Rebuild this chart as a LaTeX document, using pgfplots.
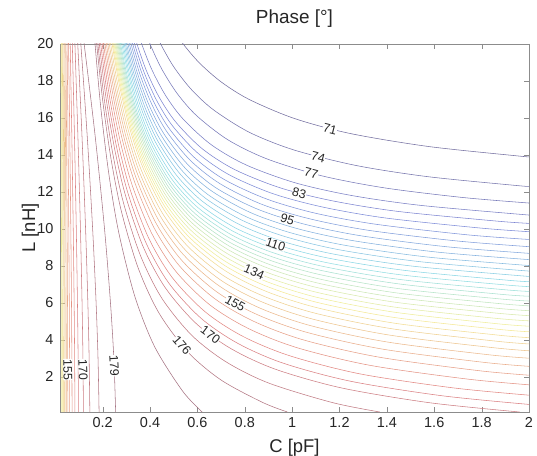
\documentclass[border=0pt]{standalone}
\usepackage{fontspec}
\setmainfont{Liberation Sans}
\usepackage{pgfplots}
\pgfplotsset{compat=1.18}
\pgfplotsset{
  colormap={wjet}{rgb255(0cm)=(115,110,160); rgb255(1cm)=(125,135,215); rgb255(3cm)=(140,220,230); rgb255(5cm)=(245,238,150); rgb255(7cm)=(225,130,130); rgb255(8cm)=(165,115,130)},
  lv/.style={color of colormap={#1 of wjet}, draw=., line width=0.55pt, smooth, no markers},
}
\tikzset{lab/.style={font=\fontsize{12.5}{14}\selectfont, text=black!85, fill=white, inner sep=0.2bp}}
\begin{document}
\begin{tikzpicture}
\useasboundingbox (-60bp,-44bp) rectangle (477bp,412bp);
\begin{axis}[
  scale only axis, width=469bp, height=368bp,
  xmin=0.02, xmax=2, ymin=0.1, ymax=20,
  xtick={0.2,0.4,0.6,0.8,1,1.2,1.4,1.6,1.8,2},
  ytick={2,4,6,8,10,12,14,16,18,20},
  tick align=inside, major tick length=5bp,
  axis line style={draw=black!45}, tick style={draw=black!45},
  /pgf/number format/assume math mode=true,
  tick label style={font=\fontsize{14.5}{16}\selectfont, text=black!85},
  xticklabel style={yshift=-2bp},
  yticklabel style={xshift=-3bp},
  title={Phase [°]},
  title style={font=\fontsize{19}{21}\selectfont, text=black!85, at={(axis description cs:0.5,1.0408)}, anchor=base},
  xlabel={C [pF]},
  xlabel style={font=\fontsize{18.5}{20}\selectfont, text=black!85, at={(axis description cs:0.5,-0.1087)}, anchor=base},
  ylabel={L [nH]},
  ylabel style={font=\fontsize{18.5}{20}\selectfont, text=black!85, at={(axis description cs:-0.0533,0.5)}, anchor=base},
]
% right-hand family of phase contours (71 ... 179 deg, step 3)
\addplot[lv=0] coordinates {(0.493,20.90)(0.54,20)(0.6105,18.95)(0.7045,17.91)(0.822,16.98)(1.01,15.97)(1.245,15.16)(1.574,14.46)(1.95,13.95)(2,13.9)};
\addplot[lv=28] coordinates {(0.4075,21.06)(0.445,20)(0.501,18.75)(0.576,17.52)(0.67,16.42)(0.82,15.22)(1.0075,14.27)(1.27,13.43)(1.57,12.83)(1.945,12.35)(2,12.3)};
\addplot[lv=56] coordinates {(0.367,21.15)(0.40,20)(0.4495,18.65)(0.5155,17.31)(0.598,16.11)(0.73,14.81)(0.895,13.78)(1.126,12.87)(1.39,12.22)(1.72,11.70)(2,11.4)};
\addplot[lv=83] coordinates {(0.3355,21.21)(0.365,20)(0.409,18.58)(0.468,17.17)(0.542,15.91)(0.66,14.54)(0.8075,13.45)(1.014,12.49)(1.25,11.81)(1.545,11.27)(2,10.75)};
\addplot[lv=111] coordinates {(0.3175,21.26)(0.345,20)(0.386,18.52)(0.441,17.07)(0.51,15.76)(0.62,14.34)(0.7575,13.21)(0.95,12.22)(1.17,11.52)(1.445,10.95)(1.8575,10.43)(2,10.3)};
\addplot[lv=139] coordinates {(0.3085,21.31)(0.335,20)(0.375,18.47)(0.428,16.95)(0.494,15.59)(0.60,14.12)(0.7325,12.94)(0.918,11.91)(1.13,11.18)(1.395,10.59)(1.7925,10.05)(2,9.85)};
\addplot[lv=167] coordinates {(0.3013,21.35)(0.327,20)(0.366,18.41)(0.417,16.84)(0.481,15.43)(0.584,13.90)(0.7125,12.68)(0.892,11.62)(1.098,10.85)(1.355,10.25)(1.7405,9.68)(2,9.43)};
\addplot[lv=194] coordinates {(0.295,21.40)(0.32,20)(0.3575,18.36)(0.4075,16.74)(0.47,15.28)(0.57,13.71)(0.695,12.45)(0.87,11.34)(1.07,10.56)(1.32,9.93)(1.695,9.35)(2,9.04)};
\addplot[lv=222] coordinates {(0.2887,21.44)(0.313,20)(0.3495,18.31)(0.398,16.64)(0.459,15.14)(0.556,13.53)(0.6775,12.23)(0.848,11.10)(1.042,10.29)(1.285,9.64)(1.6495,9.04)(2,8.68)};
\addplot[lv=250] coordinates {(0.2833,21.48)(0.307,20)(0.3426,18.27)(0.39,16.55)(0.4492,15.02)(0.544,13.35)(0.6625,12.03)(0.8284,10.86)(1.018,10.03)(1.255,9.37)(1.6105,8.75)(2,8.34)};
\addplot[lv=278] coordinates {(0.2779,21.51)(0.301,20)(0.3357,18.23)(0.3819,16.47)(0.4396,14.90)(0.532,13.20)(0.6475,11.83)(0.8092,10.64)(0.994,9.79)(1.225,9.11)(1.5715,8.48)(2,8.02)};
\addplot[lv=306] coordinates {(0.2734,21.55)(0.296,20)(0.3299,18.19)(0.3751,16.39)(0.4316,14.78)(0.522,13.05)(0.635,11.65)(0.7932,10.44)(0.974,9.57)(1.2,8.87)(1.539,8.23)(2,7.72)};
\addplot[lv=333] coordinates {(0.2689,21.58)(0.291,20)(0.3242,18.15)(0.3684,16.32)(0.4236,14.68)(0.512,12.90)(0.6225,11.48)(0.7772,10.24)(0.954,9.35)(1.175,8.64)(1.5065,7.99)(2,7.43)};
\addplot[lv=361] coordinates {(0.2644,21.61)(0.286,20)(0.3184,18.11)(0.3616,16.25)(0.4156,14.57)(0.502,12.77)(0.61,11.32)(0.7612,10.05)(0.934,9.15)(1.15,8.43)(1.474,7.76)(1.906,7.23)(2,7.15)};
\addplot[lv=389] coordinates {(0.2595,21.64)(0.281,20)(0.3133,18.08)(0.3563,16.17)(0.41,14.46)(0.496,12.62)(0.6035,11.14)(0.754,9.85)(0.926,8.93)(1.141,8.19)(1.4635,7.51)(1.8935,6.98)(2,6.88)};
\addplot[lv=417] coordinates {(0.2546,21.67)(0.276,20)(0.3081,18.04)(0.3509,16.10)(0.4044,14.36)(0.49,12.48)(0.597,10.98)(0.7468,9.66)(0.918,8.72)(1.132,7.97)(1.453,7.27)(1.881,6.73)(2,6.62)};
\addplot[lv=444] coordinates {(0.2506,21.70)(0.272,20)(0.3041,18.00)(0.3469,16.03)(0.4004,14.25)(0.486,12.34)(0.593,10.80)(0.7428,9.46)(0.914,8.50)(1.128,7.74)(1.449,7.03)(1.877,6.47)(2,6.36)};
\addplot[lv=472] coordinates {(0.2466,21.74)(0.268,20)(0.3001,17.96)(0.3429,15.95)(0.3964,14.14)(0.482,12.19)(0.589,10.63)(0.7388,9.26)(0.91,8.29)(1.124,7.51)(1.445,6.78)(1.873,6.22)(2,6.10)};
\addplot[lv=500] coordinates {(0.2426,21.77)(0.264,20)(0.2961,17.93)(0.3389,15.88)(0.3924,14.04)(0.478,12.05)(0.585,10.46)(0.7348,9.07)(0.906,8.07)(1.12,7.28)(1.441,6.54)(1.869,5.97)(2,5.84)};
\addplot[lv=528] coordinates {(0.2386,21.80)(0.26,20)(0.2921,17.89)(0.3349,15.80)(0.3884,13.93)(0.474,11.90)(0.581,10.28)(0.7308,8.87)(0.902,7.86)(1.116,7.05)(1.437,6.30)(1.865,5.71)(2,5.58)};
\addplot[lv=556] coordinates {(0.2346,21.83)(0.256,20)(0.2881,17.85)(0.3309,15.72)(0.3844,13.82)(0.47,11.75)(0.577,10.10)(0.7268,8.66)(0.898,7.63)(1.112,6.81)(1.433,6.04)(1.861,5.45)(2,5.31)};
\addplot[lv=583] coordinates {(0.2306,21.87)(0.252,20)(0.2841,17.81)(0.3269,15.64)(0.3804,13.70)(0.466,11.60)(0.573,9.92)(0.7228,8.45)(0.894,7.40)(1.108,6.56)(1.429,5.78)(1.857,5.17)(2,5.03)};
\addplot[lv=611] coordinates {(0.2265,21.90)(0.248,20)(0.2803,17.77)(0.3233,15.56)(0.377,13.58)(0.463,11.43)(0.5705,9.72)(0.721,8.22)(0.893,7.15)(1.108,6.29)(1.4305,5.50)(1.8605,4.88)(2,4.74)};
\addplot[lv=639] coordinates {(0.2224,21.94)(0.244,20)(0.2764,17.72)(0.3196,15.47)(0.3736,13.45)(0.46,11.26)(0.568,9.52)(0.7192,7.99)(0.892,6.90)(1.108,6.02)(1.432,5.21)(1.864,4.58)(2,4.44)};
\addplot[lv=667] coordinates {(0.2183,21.98)(0.24,20)(0.2726,17.67)(0.316,15.37)(0.3702,13.31)(0.457,11.08)(0.5655,9.30)(0.7174,7.74)(0.891,6.62)(1.108,5.73)(1.4335,4.90)(1.8675,4.26)(2,4.12)};
\addplot[lv=694] coordinates {(0.2124,22.02)(0.234,20)(0.2664,17.63)(0.3096,15.28)(0.3636,13.17)(0.45,10.90)(0.558,9.08)(0.7092,7.48)(0.882,6.35)(1.098,5.44)(1.422,4.60)(1.854,3.94)(2,3.78)};
\addplot[lv=722] coordinates {(0.2065,22.07)(0.228,20)(0.2603,17.57)(0.3033,15.18)(0.357,13.02)(0.443,10.70)(0.5505,8.84)(0.701,7.21)(0.873,6.05)(1.088,5.12)(1.4105,4.26)(1.8405,3.59)(2,3.41)};
\addplot[lv=750] coordinates {(0.2006,22.11)(0.222,20)(0.2541,17.52)(0.2969,15.06)(0.3504,12.86)(0.436,10.48)(0.543,8.58)(0.6928,6.91)(0.864,5.72)(1.078,4.77)(1.399,3.89)(1.827,3.20)(2,3.01)};
\addplot[lv=778] coordinates {(0.1948,22.17)(0.216,20)(0.2478,17.46)(0.2902,14.94)(0.3432,12.69)(0.428,10.25)(0.534,8.30)(0.6824,6.59)(0.852,5.37)(1.064,4.40)(1.382,3.50)(1.806,2.79)(2,2.57)};
\addplot[lv=806] coordinates {(0.189,22.22)(0.21,20)(0.2415,17.39)(0.2835,14.81)(0.336,12.50)(0.42,9.99)(0.525,7.99)(0.672,6.24)(0.84,4.99)(1.05,3.99)(1.365,3.07)(1.785,2.34)(2,2.09)};
\addplot[lv=833] coordinates {(0.1836,22.28)(0.204,20)(0.2346,17.32)(0.2754,14.68)(0.3264,12.30)(0.408,9.74)(0.51,7.69)(0.6528,5.89)(0.816,4.61)(1.02,3.58)(1.326,2.63)(1.734,1.89)(2,1.57)};
\addplot[lv=861] coordinates {(0.1782,22.34)(0.198,20)(0.2277,17.25)(0.2673,14.53)(0.3168,12.10)(0.396,9.46)(0.495,7.35)(0.6336,5.51)(0.792,4.19)(0.99,3.14)(1.287,2.16)(1.683,1.40)(2,1.01)};
\addplot[lv=889] coordinates {(0.1728,22.40)(0.192,20)(0.2208,17.19)(0.2592,14.41)(0.3072,11.92)(0.384,9.22)(0.48,7.06)(0.6144,5.18)(0.768,3.83)(0.96,2.75)(1.248,1.76)(1.632,0.98)(2,0.51)};
\addplot[lv=917] coordinates {(0.1674,22.44)(0.186,20)(0.2139,17.13)(0.2511,14.30)(0.2976,11.76)(0.372,9.01)(0.465,6.81)(0.5952,4.88)(0.744,3.51)(0.93,2.41)(1.209,1.40)(1.581,0.60)(1.96,0.1)};
\addplot[lv=944] coordinates {(0.162,22.55)(0.18,20)(0.207,17.01)(0.243,14.06)(0.288,11.41)(0.36,8.55)(0.45,6.25)(0.576,4.25)(0.72,2.82)(0.90,1.67)(1.17,0.61)(1.37,0.1)};
\addplot[lv=972] coordinates {(0.1575,22.69)(0.175,20)(0.2013,16.84)(0.2363,13.72)(0.28,10.91)(0.35,7.89)(0.4375,5.46)(0.56,3.34)(0.70,1.83)(0.875,0.62)(0.98,0.1)};
\addplot[lv=1000] coordinates {(0.1512,23.03)(0.168,20)(0.1932,16.44)(0.2268,12.92)(0.2688,9.76)(0.336,6.35)(0.42,3.62)(0.5376,1.23)(0.62,0.1)};
% left-hand family (small C), 137 ... 179 deg
\addplot[lv=611] coordinates {(0.0247,22)(0.025,20)(0.0257,15)(0.0263,10)(0.0267,6)(0.0269,3)(0.027,0.1)};
\addplot[lv=639] coordinates {(0.0265,22)(0.027,20)(0.0281,15)(0.0289,10)(0.0295,6)(0.0298,3)(0.030,0.1)};
\addplot[lv=667] coordinates {(0.0294,22)(0.030,20)(0.0314,15)(0.0326,10)(0.0333,6)(0.0338,3)(0.034,0.1)};
\addplot[lv=694] coordinates {(0.0322,22)(0.033,20)(0.0348,15)(0.0362,10)(0.0372,6)(0.0377,3)(0.038,0.1)};
\addplot[lv=722] coordinates {(0.0362,22)(0.037,20)(0.0388,15)(0.0402,10)(0.0412,6)(0.0417,3)(0.042,0.1)};
\addplot[lv=750] coordinates {(0.0401,22)(0.041,20)(0.0431,15)(0.0449,10)(0.046,6)(0.0467,3)(0.047,0.1)};
\addplot[lv=778] coordinates {(0.0438,22)(0.045,20)(0.0478,15)(0.0502,10)(0.0517,6)(0.0525,3)(0.053,0.1)};
\addplot[lv=806] coordinates {(0.0483,22)(0.050,20)(0.0539,15)(0.0571,10)(0.0592,6)(0.0604,3)(0.061,0.1)};
\addplot[lv=833] coordinates {(0.0537,22)(0.056,20)(0.0613,15)(0.0657,10)(0.0685,6)(0.0701,3)(0.071,0.1)};
\addplot[lv=861] coordinates {(0.0599,22)(0.063,20)(0.070,15)(0.0759,10)(0.0797,6)(0.0818,3)(0.083,0.1)};
\addplot[lv=889] coordinates {(0.068,22)(0.072,20)(0.0811,15)(0.0888,10)(0.0937,6)(0.0965,3)(0.098,0.1)};
\addplot[lv=917] coordinates {(0.0775,22)(0.083,20)(0.0956,15)(0.1063,10)(0.1131,6)(0.1169,3)(0.119,0.1)};
\addplot[lv=944] coordinates {(0.0871,22)(0.095,20)(0.1129,15)(0.128,10)(0.1376,6)(0.143,3)(0.146,0.1)};
\addplot[lv=972] coordinates {(0.0961,22)(0.108,20)(0.135,15)(0.1578,10)(0.1724,6)(0.1805,3)(0.185,0.1)};
\addplot[lv=1000] coordinates {(0.1015,22)(0.122,20)(0.1686,15)(0.208,10)(0.2331,6)(0.2473,3)(0.255,0.1)};
% inline contour labels
\node[lab, rotate=-14] at (axis cs:1.16,15.41) {71};
\node[lab, rotate=-14.5] at (axis cs:1.11,13.89) {74};
\node[lab, rotate=-14.6] at (axis cs:1.08,13.02) {77};
\node[lab, rotate=-14.7] at (axis cs:1.03,11.93) {83};
\node[lab, rotate=-16.5] at (axis cs:0.98,10.51) {95};
\node[lab, rotate=-18] at (axis cs:0.93,9.17) {110};
\node[lab, rotate=-23.5] at (axis cs:0.84,7.68) {134};
\node[lab, rotate=-29.4] at (axis cs:0.76,5.97) {155};
\node[lab, rotate=-37] at (axis cs:0.655,4.28) {170};
\node[lab, rotate=-49] at (axis cs:0.535,3.70) {176};
\node[lab, rotate=-89] at (axis cs:0.0527,2.4) {155};
\node[lab, rotate=-88] at (axis cs:0.1175,2.4) {170};
\node[lab, rotate=-87] at (axis cs:0.249,2.6) {179};
\end{axis}
\end{tikzpicture}
\end{document}
